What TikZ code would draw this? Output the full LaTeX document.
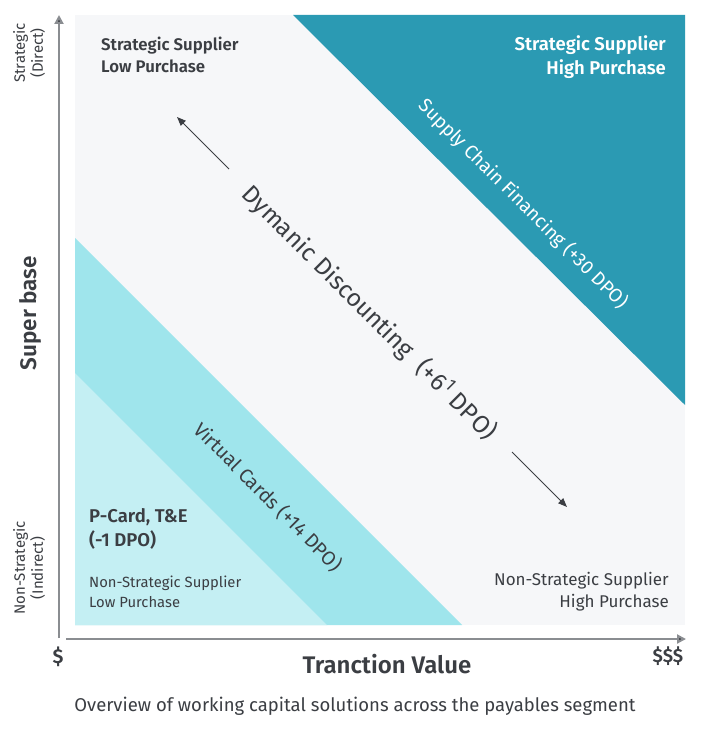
\documentclass[tikz,border=0pt]{standalone}
\usepackage{fontspec}
\setmainfont{Fira Sans}[BoldFont={Fira Sans SemiBold}]
\usetikzlibrary{arrows.meta}
\definecolor{bgc}{HTML}{F6F7F9}
\definecolor{teal}{HTML}{2B9AB3}
\definecolor{midc}{HTML}{9FE5EC}
\definecolor{lowc}{HTML}{C4EFF3}
\definecolor{txt}{HTML}{3B3E43}
\definecolor{axisc}{HTML}{8A8D91}
\tikzset{
  lbl/.style={inner sep=0pt, text=txt, align=left},
  axisline/.style={draw=axisc, line width=2pt, -{Triangle[length=9pt,width=9pt,fill=txt]}},
  dirarrow/.style={draw=txt, line width=1pt, -{Triangle[length=9pt,width=7pt]}}
}
\begin{document}
\begin{tikzpicture}[x=1pt,y=-1pt]
\useasboundingbox (0,0) rectangle (703,735);
\fill[white] (0,0) rectangle (703,735);
% regions
\fill[bgc] (75,15) rectangle (685,625);
\fill[teal] (293,15) -- (685,15) -- (685,405) -- cycle;
\fill[midc] (75,238) -- (462,625) -- (75,625) -- cycle;
\fill[lowc] (75,373) -- (327,625) -- (75,625) -- cycle;
% axes
\coordinate (yb) at (59,638);
\coordinate (yt) at (59,15);
\coordinate (xl) at (66,639);
\coordinate (xr) at (686,639);
\draw[axisline] (yb) -- (yt);
\draw[axisline] (xl) -- (xr);
% direction arrows
\coordinate (a1s) at (229,169);
\coordinate (a1e) at (177,117);
\coordinate (a2s) at (512,452);
\coordinate (a2e) at (567,507);
\draw[dirarrow] (a1s) -- (a1e);
\draw[dirarrow] (a2s) -- (a2e);
% labels
\node[lbl, font=\bfseries\fontsize{16.8}{22}\selectfont, anchor=north west] (ssl) at (101,37) {Strategic Supplier\\Low Purchase};
\node[lbl, text=white, align=right, font=\bfseries\fontsize{18.5}{24}\selectfont, anchor=north east] (ssh) at (666,35) {Strategic Supplier\\High Purchase};
\node[lbl, text=white, rotate=-45, font=\fontsize{19}{22}\selectfont] (scf) at (523,204) {Supply Chain Financing (+30 DPO)};
\node[lbl, rotate=-45, font=\fontsize{24.5}{28}\selectfont] (dd) at (369,313) {Dymanic Discounting\ \ (+6\textsuperscript{1} DPO)};
\node[lbl, rotate=-45, font=\fontsize{19.5}{22}\selectfont] (vc) at (268,497) {Virtual Cards (+14 DPO)};
\node[lbl, font=\bfseries\fontsize{18.5}{24}\selectfont, anchor=north west] (pc) at (89,508) {P-Card, T\&E\\(-1 DPO)};
\node[lbl, font=\fontsize{14.8}{19.5}\selectfont, anchor=north west] (nsl) at (89,576) {Non-Strategic Supplier\\Low Purchase};
\node[lbl, align=right, font=\fontsize{17}{22}\selectfont, anchor=north east] (nsh) at (669,572) {Non-Strategic Supplier\\High Purchase};
\node[lbl, align=center, rotate=90, font=\fontsize{15}{18}\selectfont] (st) at (29,53) {Strategic\\(Direct)};
\node[lbl, align=center, rotate=90, font=\fontsize{15}{18}\selectfont] (nst) at (29,568) {Non-Strategic\\(Indirect)};
\node[lbl, rotate=90, font=\bfseries\fontsize{22.5}{26}\selectfont] (sb) at (30,313) {Super base};
\node[lbl, font=\bfseries\fontsize{20}{22}\selectfont] (d1) at (58,657) {\$};
\node[lbl, font=\bfseries\fontsize{19}{22}\selectfont] (d3) at (668,656) {\$\$\$};
\node[lbl, font=\bfseries\fontsize{24}{28}\selectfont] (tv) at (387,664) {Tranction Value};
\node[lbl, font=\fontsize{18.5}{22}\selectfont] (cap) at (355,706) {Overview of working capital solutions across the payables segment};
\end{tikzpicture}
\end{document}
